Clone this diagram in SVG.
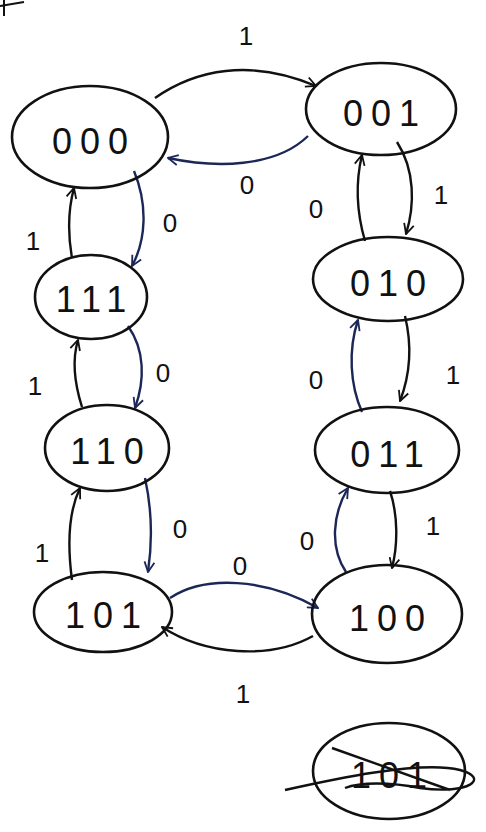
<svg xmlns="http://www.w3.org/2000/svg" width="486" height="832" viewBox="0 0 486 832">
<style>
.node{fill:none;stroke:#111;stroke-width:2.6}
.nt{font-family:"Liberation Sans",Arial,sans-serif;font-size:36px;fill:#111;text-anchor:middle;letter-spacing:8px}
.e{fill:none;stroke:#111;stroke-width:2.4}
.b{stroke:#1c2757}
.lbl{font-family:"Liberation Sans",Arial,sans-serif;font-size:26px;fill:#111;text-anchor:middle}
</style>
<defs>
<marker id="ah" viewBox="0 0 12 12" refX="11" refY="6" markerWidth="12" markerHeight="12" markerUnits="userSpaceOnUse" orient="auto">
<path d="M1,1 L11,6 L1,11" fill="none" stroke="#111" stroke-width="1.8"/>
</marker>
<marker id="ahb" viewBox="0 0 12 12" refX="11" refY="6" markerWidth="12" markerHeight="12" markerUnits="userSpaceOnUse" orient="auto">
<path d="M1,1 L11,6 L1,11" fill="none" stroke="#1c2757" stroke-width="1.8"/>
</marker>
</defs>
<rect width="486" height="832" fill="#ffffff"/>
<path d="M0,6 L24,2 M4,0 L4,16" fill="none" stroke="#111" stroke-width="2"/>
<g id="edges">
<path class="e" d="M155,98 C195,70 250,58 316,86" marker-end="url(#ah)"/>
<text class="lbl" x="246" y="45">1</text>
<path class="e b" d="M308,136 C275,168 215,168 168,158" marker-end="url(#ahb)"/>
<text class="lbl" x="247" y="194">0</text>
<path class="e b" d="M134,171 C148,205 146,240 132,266" marker-end="url(#ahb)"/>
<text class="lbl" x="170" y="232">0</text>
<path class="e" d="M72,258 C68,235 68,210 74,188" marker-end="url(#ah)"/>
<text class="lbl" x="33" y="250">1</text>
<path class="e" d="M397,142 C415,170 415,205 406,234" marker-end="url(#ah)"/>
<text class="lbl" x="441" y="204">1</text>
<path class="e" d="M365,241 C356,210 356,180 362,155" marker-end="url(#ah)"/>
<text class="lbl" x="316" y="218">0</text>
<path class="e b" d="M128,326 C145,350 145,380 135,408" marker-end="url(#ahb)"/>
<text class="lbl" x="163" y="382">0</text>
<path class="e" d="M82,407 C75,385 72,360 78,340" marker-end="url(#ah)"/>
<text class="lbl" x="35" y="395">1</text>
<path class="e b" d="M362,412 C350,385 348,350 358,320" marker-end="url(#ahb)"/>
<text class="lbl" x="316" y="389">0</text>
<path class="e" d="M405,316 C412,345 410,375 400,401" marker-end="url(#ah)"/>
<text class="lbl" x="453" y="384">1</text>
<path class="e b" d="M145,478 C152,510 152,545 148,572" marker-end="url(#ahb)"/>
<text class="lbl" x="180" y="538">0</text>
<path class="e" d="M72,580 C68,550 67,515 80,488" marker-end="url(#ah)"/>
<text class="lbl" x="42" y="562">1</text>
<path class="e b" d="M346,572 C330,548 332,515 348,488" marker-end="url(#ahb)"/>
<text class="lbl" x="307" y="550">0</text>
<path class="e" d="M390,491 C398,515 398,545 392,568" marker-end="url(#ah)"/>
<text class="lbl" x="433" y="535">1</text>
<path class="e b" d="M170,598 C205,575 265,578 318,608" marker-end="url(#ahb)"/>
<text class="lbl" x="240" y="575">0</text>
<path class="e" d="M313,636 C270,660 205,655 162,627" marker-end="url(#ah)"/>
<text class="lbl" x="243" y="703">1</text>
</g>
<g id="n000"><ellipse class="node" cx="90" cy="137" rx="78" ry="51"/><text class="nt" x="94" y="154">000</text></g>
<g id="n001"><ellipse class="node" cx="381" cy="109" rx="75" ry="46"/><text class="nt" x="385" y="126">001</text></g>
<g id="n111"><ellipse class="node" cx="91" cy="297" rx="56" ry="42"/><text class="nt" x="95" y="312">111</text></g>
<g id="n010"><ellipse class="node" cx="388" cy="279" rx="75" ry="42"/><text class="nt" x="392" y="296">010</text></g>
<g id="n110"><ellipse class="node" cx="107" cy="448" rx="62" ry="43"/><text class="nt" x="111" y="464">110</text></g>
<g id="n011"><ellipse class="node" cx="387" cy="450" rx="72" ry="43"/><text class="nt" x="391" y="467">011</text></g>
<g id="n101"><ellipse class="node" cx="103" cy="612" rx="69" ry="40"/><text class="nt" x="107" y="628">101</text></g>
<g id="n100"><ellipse class="node" cx="387" cy="614" rx="75" ry="49"/><text class="nt" x="391" y="631">100</text></g>
<g id="nx"><ellipse class="node" cx="389" cy="771" rx="76" ry="48"/><text class="nt" x="393" y="788">101</text>
<path d="M332,748 L450,790 M285,790 C330,780 420,760 460,770 C490,778 470,795 420,788 C390,782 360,782 345,788" fill="none" stroke="#111" stroke-width="2.4"/></g>
</svg>
